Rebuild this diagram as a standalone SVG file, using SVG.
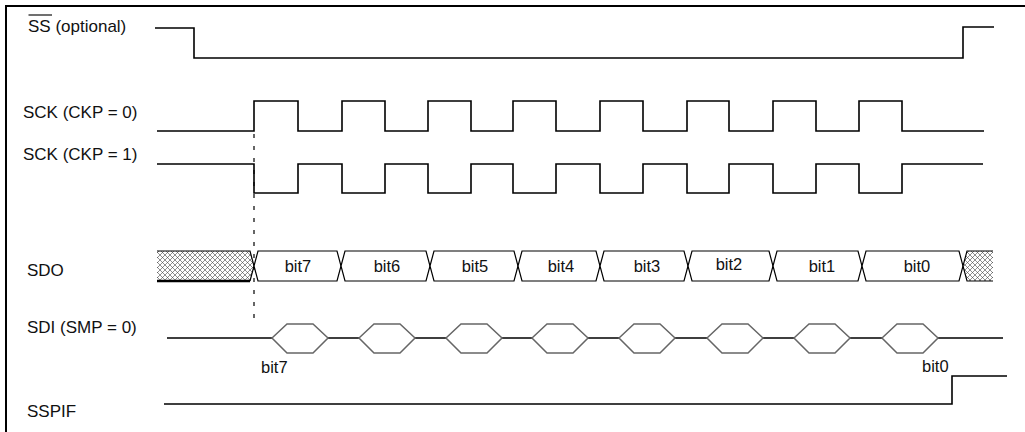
<svg xmlns="http://www.w3.org/2000/svg" width="1025" height="432" viewBox="0 0 1025 432">
<style>
.lbl{font-family:"Liberation Sans",Arial,sans-serif;font-size:17px;fill:#111}
.bit{font-family:"Liberation Sans",Arial,sans-serif;font-size:16.5px;fill:#111;text-anchor:middle}
.sig{fill:none;stroke:#000;stroke-width:1.6}
.cell{fill:#fff;stroke:#000;stroke-width:1.2}
.hex{fill:#fff;stroke:#666;stroke-width:1.5}
</style>
<defs>
<pattern id="xh" width="5" height="5" patternUnits="userSpaceOnUse">
<rect width="5" height="5" fill="#fff"/>
<path d="M0,0 L5,5 M5,0 L0,5" stroke="#444" stroke-width="0.6"/>
</pattern>
</defs>
<rect width="1025" height="432" fill="#fff"/>
<g id="frame" fill="none" stroke="#000" stroke-width="2">
<path d="M6,432 V6 H1025"/>
</g>
<g id="ss">
<text class="lbl" x="28" y="32">SS (optional)</text>
<line x1="28.5" y1="15" x2="52" y2="15" stroke="#111" stroke-width="1.2"/>
<path class="sig" d="M155,28 H194 V58 H963 V27 H994"/>
</g>
<g id="sck0">
<text class="lbl" x="23" y="118">SCK (CKP = 0)</text>
<path class="sig" d="M157,131 H254 V101 H298 V131 H342 V101 H385 V131 H428 V101 H471 V131 H513 V101 H556 V131 H600 V101 H643 V131 H687 V101 H729 V131 H773 V101 H816 V131 H859 V101 H902 V131 H984"/>
</g>
<g id="sck1">
<text class="lbl" x="23" y="160">SCK (CKP = 1)</text>
<path class="sig" d="M157,164 H254 V193 H298 V164 H342 V193 H385 V164 H428 V193 H471 V164 H513 V193 H556 V164 H600 V193 H643 V164 H687 V193 H729 V164 H773 V193 H816 V164 H859 V193 H902 V164 H983"/>
</g>
<g id="connectors">
<line x1="254" y1="134" x2="254" y2="322" stroke="#000" stroke-width="1.2" stroke-dasharray="4 8"/>
</g>
<g id="sdo">
<text class="lbl" x="27" y="276">SDO</text>
<polygon points="157,251 250,251 254,266 250,281 157,281" fill="url(#xh)" stroke="none"/>
<path d="M157,251 H250 L254,266 L250,281" fill="none" stroke="#000" stroke-width="1.2"/>
<line x1="157" y1="281" x2="250" y2="281" stroke="#000" stroke-width="2.4"/>
<polygon class="cell" points="254,266 258,251 337,251 341,266 337,281 258,281"/>
<polygon class="cell" points="341,266 345,251 426,251 430,266 426,281 345,281"/>
<polygon class="cell" points="430,266 434,251 514,251 518,266 514,281 434,281"/>
<polygon class="cell" points="518,266 522,251 596,251 600,266 596,281 522,281"/>
<polygon class="cell" points="600,266 604,251 684,251 688,266 684,281 604,281"/>
<polygon class="cell" points="688,266 692,251 769,251 773,266 769,281 692,281"/>
<polygon class="cell" points="773,266 777,251 858,251 862,266 858,281 777,281"/>
<polygon class="cell" points="862,266 866,251 959,251 963,266 959,281 866,281"/>
<polygon points="963,266 967,251 993,251 993,281 967,281" fill="url(#xh)" stroke="none"/>
<path d="M993,251 H967 L963,266 L967,281 H993" fill="none" stroke="#000" stroke-width="1.2"/>
<text class="bit" x="298" y="272">bit7</text>
<text class="bit" x="387" y="272">bit6</text>
<text class="bit" x="475" y="272">bit5</text>
<text class="bit" x="561" y="272">bit4</text>
<text class="bit" x="647" y="272">bit3</text>
<text class="bit" x="729" y="270">bit2</text>
<text class="bit" x="822" y="272">bit1</text>
<text class="bit" x="917" y="272">bit0</text>
</g>
<g id="sdi">
<text class="lbl" x="27" y="333">SDI (SMP = 0)</text>
<path class="sig" d="M167,338 H272 M328,338 H359 M415,338 H446 M502,338 H532 M588,338 H619 M675,338 H707 M763,338 H794 M850,338 H882 M938,338 H1003" stroke-width="1.4"/>
<polygon class="hex" points="272,338 287,324 313,324 328,338 313,353 287,353"/>
<polygon class="hex" points="359,338 374,324 400,324 415,338 400,353 374,353"/>
<polygon class="hex" points="446,338 461,324 487,324 502,338 487,353 461,353"/>
<polygon class="hex" points="532,338 547,324 573,324 588,338 573,353 547,353"/>
<polygon class="hex" points="619,338 634,324 660,324 675,338 660,353 634,353"/>
<polygon class="hex" points="707,338 722,324 748,324 763,338 748,353 722,353"/>
<polygon class="hex" points="794,338 809,324 835,324 850,338 835,353 809,353"/>
<polygon class="hex" points="882,338 897,324 923,324 938,338 923,353 897,353"/>
<text class="lbl" x="261" y="373" style="font-size:16.5px">bit7</text>
<text class="lbl" x="922" y="372" style="font-size:16.5px">bit0</text>
</g>
<g id="sspif">
<text class="lbl" x="27" y="417">SSPIF</text>
<path class="sig" d="M164,404 H952 V376 H1007"/>
</g>
</svg>
